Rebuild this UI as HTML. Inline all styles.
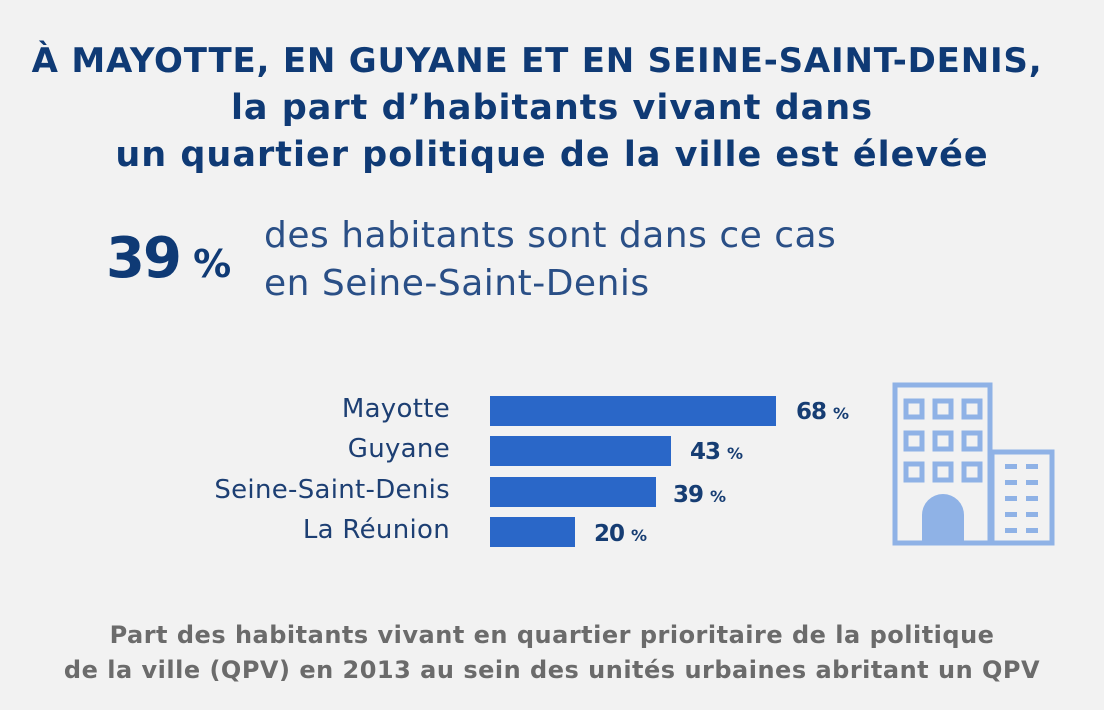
<!DOCTYPE html>
<html><head><meta charset="utf-8"><style>
body{margin:0;width:1104px;height:710px;background:#f2f2f2;overflow:hidden;font-family:"DejaVu Sans","Liberation Sans",sans-serif;position:relative;color:#1d3f73}
.t{position:absolute;left:0;width:1104px;text-align:center;font-weight:bold;color:#0f3a75;white-space:nowrap}
.a{position:absolute;white-space:nowrap}
.bar{position:absolute;left:490px;background:#2a67c8;height:30px}
.lab{position:absolute;right:654px;font-size:26px;color:#1d3f73;white-space:nowrap;letter-spacing:0.3px}
.v{position:absolute;font-weight:bold;font-size:23px;color:#163d73;white-space:nowrap;letter-spacing:-1px}
.v small{font-size:16px;letter-spacing:0}
</style></head><body>
<div class="t" style="top:41px;left:-15px;font-size:34px;letter-spacing:0.8px">À MAYOTTE, EN GUYANE ET EN SEINE-SAINT-DENIS,</div>
<div class="t" style="top:88px;font-size:35px;letter-spacing:1px">la part d’habitants vivant dans</div>
<div class="t" style="top:135px;font-size:35px;letter-spacing:1px">un quartier politique de la ville est élevée</div>
<div class="a" style="left:106px;top:226px;font-size:56px;font-weight:bold;color:#0f3a75;letter-spacing:-2px">39<span style="font-size:38px;letter-spacing:0"> %</span></div>
<div class="a" style="left:264px;top:212px;font-size:36px;color:#2a4f86;line-height:48px;letter-spacing:0.5px">des habitants sont dans ce cas<br>en Seine-Saint-Denis</div>
<div class="lab" style="top:394px">Mayotte</div>
<div class="lab" style="top:434px">Guyane</div>
<div class="lab" style="top:475px">Seine-Saint-Denis</div>
<div class="lab" style="top:515px">La Réunion</div>
<div class="bar" style="top:396px;width:286px"></div>
<div class="bar" style="top:436px;width:181px"></div>
<div class="bar" style="top:477px;width:166px"></div>
<div class="bar" style="top:517px;width:85px"></div>
<div class="v" style="left:796px;top:399px">68 <small>%</small></div>
<div class="v" style="left:690px;top:439px">43 <small>%</small></div>
<div class="v" style="left:673px;top:482px">39 <small>%</small></div>
<div class="v" style="left:594px;top:521px">20 <small>%</small></div>
<svg style="position:absolute;left:880px;top:370px" width="190" height="190">
<g fill="none" stroke="#8fb2e6" stroke-width="5">
<rect x="15" y="15" width="95" height="158"/>
<rect x="112" y="82" width="60" height="91"/>
<rect x="26" y="31" width="16" height="16"/><rect x="55" y="31" width="16" height="16"/><rect x="84" y="31" width="16" height="16"/>
<rect x="26" y="63" width="16" height="16"/><rect x="55" y="63" width="16" height="16"/><rect x="84" y="63" width="16" height="16"/>
<rect x="26" y="94" width="16" height="16"/><rect x="55" y="94" width="16" height="16"/><rect x="84" y="94" width="16" height="16"/>
</g>
<path d="M42 173 V145 a21 21 0 0 1 42 0 V173 Z" fill="#8fb2e6"/>
<g fill="#8fb2e6">
<rect x="125" y="94" width="12" height="5"/><rect x="146" y="94" width="12" height="5"/>
<rect x="125" y="110" width="12" height="5"/><rect x="146" y="110" width="12" height="5"/>
<rect x="125" y="126" width="12" height="5"/><rect x="146" y="126" width="12" height="5"/>
<rect x="125" y="142" width="12" height="5"/><rect x="146" y="142" width="12" height="5"/>
<rect x="125" y="158" width="12" height="5"/><rect x="146" y="158" width="12" height="5"/>
</g></svg>
<div class="t" style="top:618px;font-size:24px;letter-spacing:0.5px;color:#6b6b6b;line-height:35px">Part des habitants vivant en quartier prioritaire de la politique<br>de la ville (QPV) en 2013 au sein des unités urbaines abritant un QPV</div>
</body></html>
